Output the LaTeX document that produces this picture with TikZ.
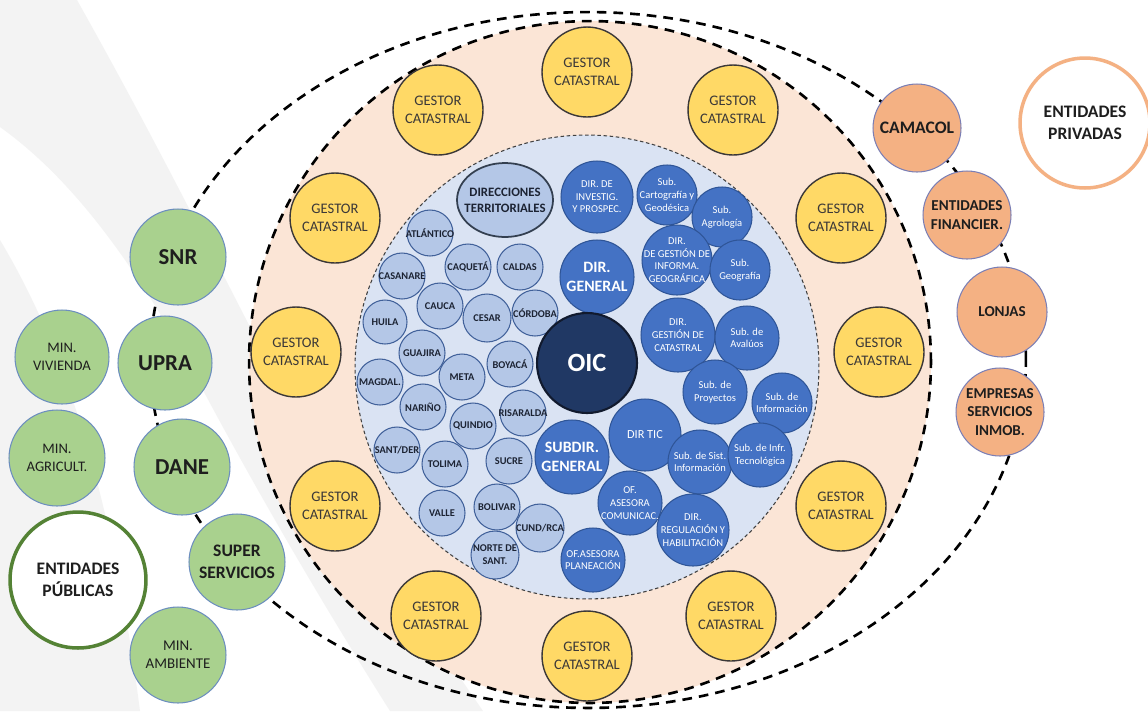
\documentclass[tikz,border=0pt]{standalone}
\usepackage{fontspec}
\setmainfont{Carlito}
\usetikzlibrary{shapes.geometric}
\newcommand\setfs[2]{\fontsize{#1pt}{#2pt}\selectfont}
\definecolor{peach}{HTML}{FBE5D6}
\definecolor{bluebg}{HTML}{DAE3F3}
\definecolor{lbF}{HTML}{B4C7E7}
\definecolor{lbD}{HTML}{41619A}
\definecolor{lbT}{HTML}{1C2333}
\definecolor{dtD}{HTML}{333F50}
\definecolor{bF}{HTML}{4472C4}
\definecolor{bD}{HTML}{2F5597}
\definecolor{oicF}{HTML}{203864}
\definecolor{oicD}{HTML}{111A2E}
\definecolor{yelF}{HTML}{FFD966}
\definecolor{yelD}{HTML}{3B3838}
\definecolor{yelT}{HTML}{3B3838}
\definecolor{gF}{HTML}{A9D18E}
\definecolor{gD}{HTML}{6C8EBF}
\definecolor{oF}{HTML}{F4B183}
\definecolor{oD}{HTML}{7B7FB5}
\definecolor{pubD}{HTML}{548235}
\definecolor{txtD}{HTML}{1E1E1E}
\definecolor{bgG}{HTML}{F3F3F3}
\tikzset{
  circ/.style={circle, inner sep=0pt, minimum size=#1*0.4mm},
  bigdash/.style={draw=black, line width=1.5pt, dash pattern=on 5.5pt off 4pt},
  smalldash/.style={draw=black!75, line width=0.6pt, dash pattern=on 2pt off 1.5pt},
  yelnode/.style={circ=45, fill=yelF, draw=yelD, line width=0.8pt},
  yeltxt/.style={align=center, text=yelT, font=\setfs{8.3}{10.2}},
  gestor/.style={yelnode, label={[yeltxt]center:{GESTOR\\CATASTRAL}}},
  lbnode/.style={circ=#1, fill=lbF, draw=lbD, line width=0.6pt},
  lbtxt/.style={align=center, text=lbT, font=\bfseries\setfs{5.9}{7.3}},
  bnode/.style={circ=#1, fill=bF, draw=bD, line width=0.6pt},
  btxt/.style={align=center, text=white, font=\setfs{6}{7.2}},
  bbig/.style={align=center, text=white, font=\bfseries\setfs{9}{10.8}},
  gnode/.style={circ=#1, fill=gF, draw=gD, line width=0.6pt},
  onode/.style={circ=#1, fill=oF, draw=oD, line width=0.6pt},
  bigt/.style={align=center, text=txtD, font=\bfseries\setfs{13}{15}},
  midt/.style={align=center, text=txtD, font=\bfseries\setfs{10}{12.2}},
  smt/.style={align=center, text=txtD, font=\setfs{8.3}{10}},
  ort/.style={align=center, text=txtD, font=\bfseries\setfs{8.6}{10.4}},
}
\begin{document}
\begin{tikzpicture}[x=0.02cm, y=-0.02cm]
\useasboundingbox (0,0) rectangle (1148,711);
\fill[white] (0,0) rectangle (1148,711);
% background bands
\fill[bgG] (0,0) -- (77,0) .. controls (150,130) and (200,230) .. (267,360)
  .. controls (340,500) and (420,620) .. (483,711) -- (390,711)
  .. controls (320,600) and (250,480) .. (187,360)
  .. controls (120,240) and (60,170) .. (0,127) -- cycle;
\fill[bgG] (0,240) .. controls (60,340) and (110,480) .. (140,711) -- (0,711) -- cycle;
% outer ellipse and rings
\draw[bigdash] (588,360) ellipse [x radius=8.76cm, y radius=6.96cm];
\path[fill=peach, bigdash] (590,362) circle [radius=6.82cm];
\path[fill=bluebg, smalldash] (587,367) circle [radius=4.64cm];
% gestores
\node[gestor] (g1) at (587,72) {};
\node[gestor] (g2) at (438,110) {};
\node[gestor] (g3) at (733,110) {};
\node[gestor] (g4) at (335,218) {};
\node[gestor] (g5) at (841,218) {};
\node[gestor] (g6) at (296,352) {};
\node[gestor] (g7) at (879,352) {};
\node[gestor] (g8) at (335,506) {};
\node[gestor] (g9) at (841,506) {};
\node[gestor] (g10) at (436,616) {};
\node[gestor] (g11) at (731,616) {};
\node[gestor] (g12) at (587,656) {};
% direcciones territoriales
\node[ellipse, minimum width=19.2mm, minimum height=14.8mm, inner sep=0pt, fill=lbF, draw=dtD, line width=1pt,
  label={[align=center, text=lbT, font=\bfseries\setfs{7.3}{9}]center:{DIRECCIONES\\TERRITORIALES}}] (dterr) at (505,200) {};
\node[lbnode=23, label={[lbtxt]center:ATLÁNTICO}] (atl) at (430,233) {};
\node[lbnode=23, label={[lbtxt]center:CAQUETÁ}] (caq) at (468,267) {};
\node[lbnode=23, label={[lbtxt]center:CALDAS}] (cal) at (520,267) {};
\node[lbnode=23, label={[lbtxt]center:CASANARE}] (cas) at (402,276) {};
\node[lbnode=23, label={[lbtxt]center:CAUCA}] (cau) at (440,306) {};
\node[lbnode=24, label={[lbtxt]center:CESAR}] (ces) at (487,318) {};
\node[lbnode=23, label={[lbtxt]center:CÓRDOBA}] (cor) at (535,313) {};
\node[lbnode=22, label={[lbtxt]center:HUILA}] (hui) at (385,322) {};
\node[lbnode=23, label={[lbtxt]center:GUAJIRA}] (gua) at (422,353) {};
\node[lbnode=23, label={[lbtxt]center:BOYACÁ}] (boy) at (510,364) {};
\node[lbnode=23, label={[lbtxt]center:MAGDAL.}] (mag) at (380,382) {};
\node[lbnode=23, label={[lbtxt]center:META}] (met) at (462,377) {};
\node[lbnode=23, label={[lbtxt]center:NARIÑO}] (nar) at (423,407) {};
\node[lbnode=23, label={[lbtxt]center:RISARALDA}] (ris) at (523,413) {};
\node[lbnode=23, label={[lbtxt]center:QUINDIO}] (qui) at (473,426) {};
\node[lbnode=23, label={[lbtxt]center:SANT/DER}] (san) at (397,450) {};
\node[lbnode=23, label={[lbtxt]center:TOLIMA}] (tol) at (445,464) {};
\node[lbnode=23, label={[lbtxt]center:SUCRE}] (suc) at (509,461) {};
\node[lbnode=23, label={[lbtxt]center:VALLE}] (val) at (442,513) {};
\node[lbnode=23, label={[lbtxt]center:BOLIVAR}] (bol) at (497,507) {};
\node[lbnode=24, label={[lbtxt]center:CUND/RCA}] (cun) at (540,528) {};
\node[lbnode=24, label={[lbtxt]center:{NORTE DE\\SANT.}}] (nor) at (495,555) {};
% blue nodes
\node[bnode=36, label={[btxt]center:{DIR. DE\\INVESTIG.\\Y PROSPEC.}}] (dinv) at (597,197) {};
\node[bnode=30, label={[btxt]center:{Sub.\\Cartografía y\\Geodésica}}] (scart) at (667,195) {};
\node[bnode=30, label={[btxt]center:{Sub.\\Agrología}}] (sagro) at (722,217) {};
\node[bnode=37, label={[bbig]center:{DIR.\\GENERAL}}] (dgen) at (597,277) {};
\node[bnode=35, label={[btxt]center:{DIR.\\DE GESTIÓN DE\\INFORMA.\\GEOGRÁFICA}}] (dgig) at (677,260) {};
\node[bnode=30, label={[btxt]center:{Sub.\\Geografía}}] (sgeo) at (740,270) {};
\node[bnode=37, label={[btxt]center:{DIR.\\GESTIÓN DE\\CATASTRAL}}] (dgc) at (678,335) {};
\node[bnode=32, label={[btxt]center:{Sub. de\\Avalúos}}] (saval) at (747,338) {};
\node[bnode=32, label={[btxt]center:{Sub. de\\Proyectos}}] (sproy) at (715,392) {};
\node[bnode=30, label={[btxt]center:{Sub. de\\Información}}] (sinf) at (782,403) {};
\node[bnode=36, label={[btxt, font=\setfs{7}{8.4}]center:DIR TIC}] (dtic) at (645,435) {};
\node[bnode=37, label={[bbig]center:{SUBDIR.\\GENERAL}}] (sdg) at (572,457) {};
\node[bnode=32, label={[btxt]center:{Sub. de Sist.\\Información}}] (ssist) at (700,462) {};
\node[bnode=32, label={[btxt]center:{Sub. de Infr.\\Tecnológica}}] (sinfr) at (760,455) {};
\node[bnode=32, label={[btxt]center:{OF.\\ASESORA\\COMUNICAC.}}] (ofcom) at (630,503) {};
\node[bnode=36, label={[btxt]center:{DIR.\\REGULACIÓN Y\\HABILITACIÓN}}] (dreg) at (693,530) {};
\node[bnode=32, label={[btxt]center:{OF.ASESORA\\PLANEACIÓN}}] (ofpla) at (593,560) {};
\node[circ=50, fill=oicF, draw=oicD, line width=1.2pt,
  label={[align=center, text=white, font=\bfseries\setfs{15}{18}]center:OIC}] (oic) at (587,363) {};
% public entities
\node[gnode=48, label={[bigt]center:SNR}] (snr) at (178,257) {};
\node[gnode=47, label={[smt]center:{MIN.\\VIVIENDA}}] (vivi) at (62,357) {};
\node[gnode=47, label={[bigt]center:UPRA}] (upra) at (165,363) {};
\node[gnode=48, label={[smt]center:{MIN.\\AGRICULT.}}] (agri) at (57,458) {};
\node[gnode=48, label={[bigt]center:DANE}] (dane) at (182,467) {};
\node[circ=68, fill=white, draw=pubD, line width=2pt, label={[midt]center:{ENTIDADES\\PÚBLICAS}}] (entpub) at (78,580) {};
\node[gnode=48, label={[midt]center:{SUPER\\SERVICIOS}}] (super) at (237,562) {};
\node[gnode=48, label={[smt, font=\setfs{8.5}{10.2}]center:{MIN.\\AMBIENTE}}] (ambi) at (178,655) {};
% private entities
\node[onode=44, label={[ort, font=\bfseries\setfs{10}{12}]center:CAMACOL}] (camacol) at (917,128) {};
\node[onode=44, label={[ort]center:{ENTIDADES\\FINANCIER.}}] (financ) at (967,215) {};
\node[onode=45, label={[ort]center:LONJAS}] (lonjas) at (1002,312) {};
\node[onode=44, label={[ort]center:{EMPRESAS\\SERVICIOS\\INMOB.}}] (empresas) at (1000,412) {};
\node[circ=65, fill=white, draw=oF, line width=2pt, label={[midt]center:{ENTIDADES\\PRIVADAS}}] (entpriv) at (1085,123) {};
\end{tikzpicture}
\end{document}
